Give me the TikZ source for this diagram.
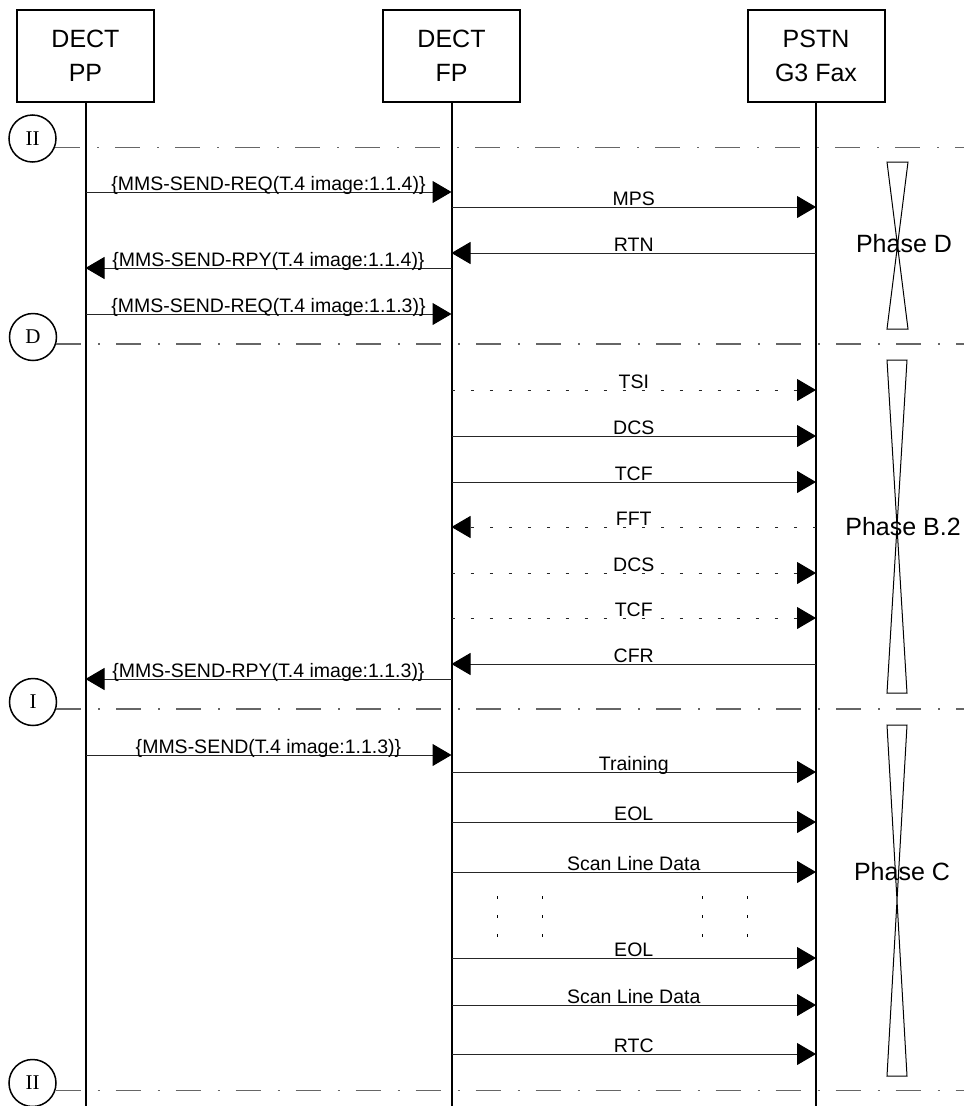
\documentclass[tikz,border=0pt]{standalone}
\usepackage{fontspec}
\setmainfont{Liberation Sans}
\newfontfamily\msgfont{Liberation Sans}
\newfontfamily\romfont{Liberation Serif}
\usetikzlibrary{arrows.meta}
\tikzset{
 hdr/.style={draw, line width=2pt, minimum width=137pt, minimum height=92pt, inner sep=0pt, align=center, font=\fontsize{25}{34}\selectfont},
 life/.style={line width=2pt},
 msg/.style={line width=1pt, draw=black!85, -{Triangle[length=19pt,width=22pt,color=black]}},
 dmsg/.style={msg, dash pattern=on 3.5pt off 15.5pt},
 lbl/.style={midway, anchor=base, yshift=2pt, inner sep=0pt, font=\msgfont\fontsize{19.5}{22}\selectfont},
 circ/.style={draw, circle, line width=1.5pt, minimum size=47pt, inner sep=0pt, font=\romfont\fontsize{21}{24}\selectfont},
 sep/.style={line width=1.2pt, draw=black!60, dash pattern=on 25pt off 17pt on 2pt off 16pt},
 bow/.style={line width=1pt},
 phase/.style={font=\fontsize{25}{30}\selectfont, anchor=base, inner sep=0pt},
 vdots/.style={line width=1pt, dash pattern=on 3pt off 16pt},
}
\begin{document}
\begin{tikzpicture}[x=1pt,y=-1pt]
\useasboundingbox (0,0) rectangle (964,1106);
% header boxes
\node[hdr] (PP) at (85.5,55.5) {DECT\\PP};
\node[hdr] (FP) at (451.5,55.5) {DECT\\FP};
\node[hdr] (PSTN) at (816,55.5) {PSTN\\G3 Fax};
% lifelines
\coordinate (PPend) at (PP.south |- 0,1106);
\coordinate (FPend) at (FP.south |- 0,1106);
\coordinate (PSTNend) at (PSTN.south |- 0,1106);
\draw[life] (PP.south) -- (PPend);
\draw[life] (FP.south) -- (FPend);
\draw[life] (PSTN.south) -- (PSTNend);
% phase separators
\node[circ] (c1) at (32.5,138.5) {II};
\node[circ] (c2) at (33,337) {D};
\node[circ] (c3) at (33,702) {I};
\node[circ] (c4) at (32.5,1083) {II};
\draw[sep] (c1.-21) -- ++(920,0);
\draw[sep] (c2.-17) -- ++(920,0);
\draw[sep] (c3.-17) -- ++(920,0);
\draw[sep] (c4.-17) -- ++(920,0);
% phase markers
\draw[bow] (887,162) -- (908,162) -- (887,329) -- (908,329) -- cycle;
\draw[bow] (887,360) -- (907,360) -- (887,693) -- (907,693) -- cycle;
\draw[bow] (887,725) -- (907,725) -- (887,1076) -- (907,1076) -- cycle;
\node[phase] (phD) at (904,252) {Phase D};
\node[phase] (phB) at (903,535) {Phase B.2};
\node[phase] (phC) at (902,880) {Phase C};
% messages
\draw[msg] (PP.south |- 0,192) -- (FP.south |- 0,192) node[lbl] {\{MMS-SEND-REQ(T.4 image:1.1.4)\}};
\draw[msg] (FP.south |- 0,207) -- (PSTN.south |- 0,207) node[lbl] {MPS};
\draw[msg] (PSTN.south |- 0,253) -- (FP.south |- 0,253) node[lbl] {RTN};
\draw[msg] (FP.south |- 0,268) -- (PP.south |- 0,268) node[lbl] {\{MMS-SEND-RPY(T.4 image:1.1.4)\}};
\draw[msg] (PP.south |- 0,314) -- (FP.south |- 0,314) node[lbl] {\{MMS-SEND-REQ(T.4 image:1.1.3)\}};
\draw[dmsg] (FP.south |- 0,390) -- (PSTN.south |- 0,390) node[lbl] {TSI};
\draw[msg] (FP.south |- 0,436) -- (PSTN.south |- 0,436) node[lbl] {DCS};
\draw[msg] (FP.south |- 0,482) -- (PSTN.south |- 0,482) node[lbl] {TCF};
\draw[dmsg] (PSTN.south |- 0,527) -- (FP.south |- 0,527) node[lbl] {FFT};
\draw[dmsg] (FP.south |- 0,573) -- (PSTN.south |- 0,573) node[lbl] {DCS};
\draw[dmsg] (FP.south |- 0,618) -- (PSTN.south |- 0,618) node[lbl] {TCF};
\draw[msg] (PSTN.south |- 0,664) -- (FP.south |- 0,664) node[lbl] {CFR};
\draw[msg] (FP.south |- 0,679) -- (PP.south |- 0,679) node[lbl] {\{MMS-SEND-RPY(T.4 image:1.1.3)\}};
\draw[msg] (PP.south |- 0,755) -- (FP.south |- 0,755) node[lbl] {\{MMS-SEND(T.4 image:1.1.3)\}};
\draw[msg] (FP.south |- 0,772) -- (PSTN.south |- 0,772) node[lbl] {Training};
\draw[msg] (FP.south |- 0,822) -- (PSTN.south |- 0,822) node[lbl] {EOL};
\draw[msg] (FP.south |- 0,872) -- (PSTN.south |- 0,872) node[lbl] {Scan Line Data};
\draw[msg] (FP.south |- 0,958) -- (PSTN.south |- 0,958) node[lbl] {EOL};
\draw[msg] (FP.south |- 0,1005) -- (PSTN.south |- 0,1005) node[lbl] {Scan Line Data};
\draw[msg] (FP.south |- 0,1054) -- (PSTN.south |- 0,1054) node[lbl] {RTC};
% continuation dots
\foreach \xx in {497,542,702,747} \draw[vdots] (\xx,896) -- (\xx,939);
\end{tikzpicture}
\end{document}
